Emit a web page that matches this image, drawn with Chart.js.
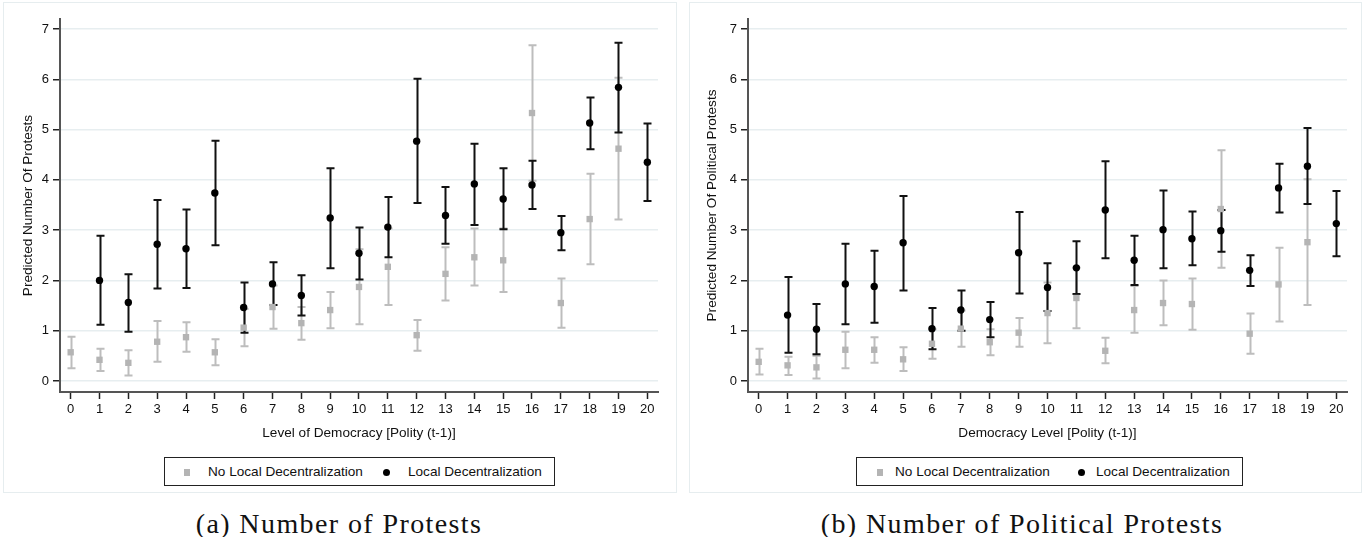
<!DOCTYPE html>
<html>
<head>
<meta charset="utf-8">
<script src="https://cdn.jsdelivr.net/npm/chart.js@4"></script>
<style>
  body { margin: 0; background: #fff; width: 1364px; height: 537px; position: relative; overflow: hidden;
         font-family: "Liberation Sans", Arial, sans-serif; color: #111; }
  .panel { position: absolute; border: 1px solid #e6edef; box-sizing: border-box; }
  canvas { position: absolute; }
  .legend { position: absolute; border: 1px solid #222; box-sizing: border-box; height: 29px; font-size: 13.6px; }
  .legend span { position: absolute; top: 6px; white-space: nowrap; }
  .legend i { position: absolute; display: block; }
  .sq { width: 6px; height: 7px; background: #b4b4b4; top: 11px; }
  .dot { width: 7px; height: 7px; border-radius: 50%; background: #000; top: 11px; }
  .caption { position: absolute; top: 510px; line-height: 28px; font-family: "Liberation Serif", "Times New Roman", serif;
             font-size: 28px; letter-spacing: 1.4px; white-space: nowrap; transform: translateX(-50%); }
</style>
</head>
<body>
<div class="panel" style="left:3px; top:2px; width:674px; height:491px;"></div>
<div class="panel" style="left:689px; top:2px; width:673px; height:491px;"></div>
<canvas id="chartA" width="672" height="448" style="left:3px; top:3px;"></canvas>
<canvas id="chartB" width="671" height="448" style="left:690px; top:3px;"></canvas>

<div class="legend" style="left:164px; top:457px; width:391px;">
  <i class="sq" style="left:19px;"></i><span style="left:43px;">No Local Decentralization</span>
  <i class="dot" style="left:218px;"></i><span style="left:243px;">Local Decentralization</span>
</div>
<div class="legend" style="left:856px; top:457px; width:387px;">
  <i class="sq" style="left:20px;"></i><span style="left:38px;">No Local Decentralization</span>
  <i class="dot" style="left:221px;"></i><span style="left:239px;">Local Decentralization</span>
</div>

<div class="caption" style="left:339px;">(a) Number of Protests</div>
<div class="caption" style="left:1022px;">(b) Number of Political Protests</div>

<script>
// democracy level (polity, t-1)
const levels = [0, 1, 2, 3, 4, 5, 6, 7, 8, 9, 10, 11, 12, 13, 14, 15, 16, 17, 18, 19, 20];
const yTicks = [0, 1, 2, 3, 4, 5, 6, 7];

// (a) number of protests
const noDecA    = [0.57, 0.42, 0.36, 0.78, 0.87, 0.57, 1.06, 1.47, 1.15, 1.41, 1.87, 2.27, 0.91, 2.13, 2.46, 2.40, 5.33, 1.55, 3.22, 4.62, null];
const noDecA_lo = [0.25, 0.20, 0.11, 0.38, 0.58, 0.31, 0.69, 1.04, 0.82, 1.05, 1.13, 1.51, 0.60, 1.60, 1.90, 1.77, 3.98, 1.06, 2.32, 3.21, null];
const noDecA_hi = [0.88, 0.64, 0.61, 1.19, 1.17, 0.83, 1.43, 1.90, 1.47, 1.77, 2.62, 3.03, 1.21, 2.66, 3.03, 3.03, 6.68, 2.04, 4.12, 6.03, null];
const decA    = [null, 2.00, 1.56, 2.72, 2.63, 3.74, 1.46, 1.93, 1.70, 3.24, 2.54, 3.06, 4.77, 3.29, 3.92, 3.62, 3.90, 2.95, 5.13, 5.84, 4.35];
const decA_lo = [null, 1.12, 0.98, 1.84, 1.85, 2.70, 0.96, 1.51, 1.30, 2.24, 2.02, 2.46, 3.54, 2.73, 3.10, 3.02, 3.42, 2.60, 4.61, 4.94, 3.58];
const decA_hi = [null, 2.89, 2.12, 3.60, 3.41, 4.78, 1.96, 2.36, 2.10, 4.23, 3.05, 3.66, 6.01, 3.86, 4.72, 4.23, 4.38, 3.28, 5.64, 6.73, 5.12];

// (b) number of political protests
const noDecB    = [0.38, 0.31, 0.27, 0.62, 0.62, 0.43, 0.74, 1.04, 0.77, 0.96, 1.35, 1.65, 0.60, 1.41, 1.55, 1.53, 3.42, 0.94, 1.92, 2.76, null];
const noDecB_lo = [0.13, 0.12, 0.05, 0.25, 0.36, 0.20, 0.44, 0.68, 0.51, 0.68, 0.75, 1.05, 0.35, 0.96, 1.11, 1.02, 2.25, 0.54, 1.18, 1.51, null];
const noDecB_hi = [0.64, 0.48, 0.50, 0.98, 0.87, 0.67, 1.03, 1.40, 1.03, 1.25, 1.96, 2.25, 0.86, 1.89, 2.00, 2.04, 4.59, 1.34, 2.65, 4.01, null];
const decB    = [null, 1.31, 1.03, 1.93, 1.88, 2.75, 1.04, 1.41, 1.22, 2.55, 1.86, 2.25, 3.40, 2.40, 3.01, 2.83, 2.99, 2.20, 3.84, 4.27, 3.13];
const decB_lo = [null, 0.56, 0.53, 1.13, 1.16, 1.80, 0.63, 1.00, 0.87, 1.74, 1.39, 1.73, 2.44, 1.91, 2.24, 2.30, 2.57, 1.89, 3.35, 3.52, 2.48];
const decB_hi = [null, 2.07, 1.53, 2.73, 2.59, 3.68, 1.45, 1.80, 1.57, 3.36, 2.34, 2.78, 4.37, 2.89, 3.79, 3.37, 3.40, 2.50, 4.32, 5.03, 3.78];

const FONT = '"Liberation Sans", Arial, sans-serif';
const GRAY = '#b4b4b4';

function toPoints(vals) {
  return levels.map((lv, i) => ({ x: lv, y: vals[i] })).filter(p => p.y !== null);
}

// draws the confidence interval caps under the points
const errorBars = {
  id: 'errorBars',
  beforeDatasetsDraw(chart) {
    const ctx = chart.ctx;
    const xs = chart.scales.x, ys = chart.scales.y;
    const cap = 4;
    [1, 0].forEach(i => {
      const ds = chart.data.datasets[i];
      ctx.save();
      ctx.strokeStyle = ds.barColor;
      ctx.lineWidth = ds.barWidth;
      ds.lo.forEach((lo, k) => {
        if (lo === null) return;
        const px = Math.round(xs.getPixelForValue(levels[k])) + 0.5;
        const p1 = ys.getPixelForValue(lo);
        const p2 = ys.getPixelForValue(ds.hi[k]);
        ctx.beginPath();
        ctx.moveTo(px, p1); ctx.lineTo(px, p2);
        ctx.moveTo(px - cap, p1); ctx.lineTo(px + cap, p1);
        ctx.moveTo(px - cap, p2); ctx.lineTo(px + cap, p2);
        ctx.stroke();
      });
      ctx.restore();
    });
  }
};

function makeChart(id, yTitle, xTitle, dec, decLo, decHi, noDec, noDecLo, noDecHi, yAxisWidth, yTitlePad, padRight) {
  const ctx = document.getElementById(id).getContext('2d');
  return new Chart(ctx, {
    type: 'scatter',
    data: {
      datasets: [
        {
          label: 'Local Decentralization',
          data: toPoints(dec),
          lo: decLo, hi: decHi,
          barColor: '#111', barWidth: 2,
          pointStyle: 'circle',
          pointRadius: 3.7,
          pointBorderWidth: 0,
          backgroundColor: '#000',
          borderColor: '#000'
        },
        {
          label: 'No Local Decentralization',
          data: toPoints(noDec),
          lo: noDecLo, hi: noDecHi,
          barColor: '#bdbdbd', barWidth: 2,
          pointStyle: 'rect',
          pointRadius: 4.5,
          pointBorderWidth: 0,
          backgroundColor: GRAY,
          borderColor: GRAY
        }
      ]
    },
    options: {
      responsive: false,
      animation: false,
      devicePixelRatio: 1,
      layout: { padding: { left: 0, right: padRight, top: 16, bottom: 0 } },
      plugins: { legend: { display: false }, tooltip: { enabled: false } },
      scales: {
        x: {
          type: 'linear',
          min: -0.37, max: 20.37,
          afterFit: s => { s.height = 59; },
          border: { color: '#555', width: 2 },
          grid: { drawOnChartArea: false, tickLength: 7, tickColor: '#222', tickWidth: 1.5 },
          ticks: {
            stepSize: 1, includeBounds: false, autoSkip: false, maxRotation: 0,
            color: '#111', padding: 3, font: { family: FONT, size: 13 }
          },
          title: { display: true, text: xTitle, color: '#111', padding: { top: 0, bottom: 10 }, font: { family: FONT, size: 13.6 } }
        },
        y: {
          min: -0.22, max: 7.2,
          afterFit: s => { s.width = yAxisWidth; },
          afterBuildTicks: s => { s.ticks = yTicks.map(v => ({ value: v })); },
          border: { color: '#555', width: 2 },
          grid: { color: '#e7eef0', lineWidth: 1.5, tickLength: 7, tickColor: '#222', tickWidth: 1.5 },
          ticks: { color: '#111', padding: 4, font: { family: FONT, size: 13 } },
          title: { display: true, text: yTitle, color: '#111', padding: { top: yTitlePad, bottom: 0 }, font: { family: FONT, size: 13.6 } }
        }
      }
    },
    plugins: [errorBars]
  });
}

makeChart('chartA', 'Predicted Number Of Protests', 'Level of Democracy [Polity (t-1)]',
  decA, decA_lo, decA_hi, noDecA, noDecA_lo, noDecA_hi, 57, 17, 17);
makeChart('chartB', 'Predicted Number Of Political Protests', 'Democracy Level [Polity (t-1)]',
  decB, decB_lo, decB_hi, noDecB, noDecB_lo, noDecB_hi, 58, 14, 14);
</script>
</body>
</html>
